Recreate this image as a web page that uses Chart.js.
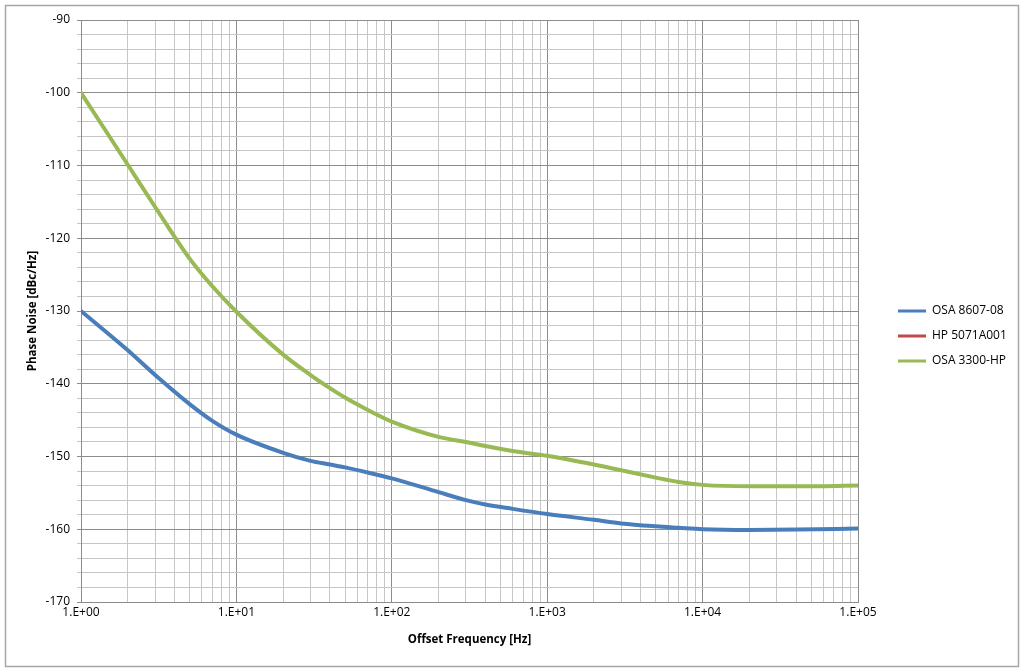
<!DOCTYPE html>
<html>
<head>
<meta charset="utf-8">
<script src="https://cdn.jsdelivr.net/npm/chart.js@4.4.0/dist/chart.umd.min.js"></script>
<style>
html,body{margin:0;padding:0;background:#fff;}
#wrap{position:relative;width:1024px;height:670px;}
canvas{display:block;}
</style>
</head>
<body>
<div id="wrap"><canvas id="c" width="1024" height="670"></canvas></div>
<script>
// ---- data ----
const frequencies = [1,2,3,5,7,10,20,30,40,50,70,100,200,300,400,600,1000,2000,3000,5000,7000,10000,20000,40000,100000];
const osa8607 = [-130,-135.4,-138.8,-142.8,-145.1,-147.0,-149.5,-150.6,-151.1,-151.5,-152.2,-153.0,-154.9,-156.0,-156.6,-157.2,-157.9,-158.7,-159.2,-159.6,-159.8,-160.0,-160.1,-160.05,-159.9];
const hp5071 = [];
const osa3300 = [-100,-109.9,-115.7,-122.8,-126.6,-130.1,-136.0,-138.8,-140.6,-141.9,-143.6,-145.2,-147.3,-148.0,-148.55,-149.25,-149.9,-151.1,-151.9,-152.9,-153.5,-153.9,-154.1,-154.1,-154.0];
const seriesNames = ['OSA 8607-08','HP 5071A001','OSA 3300-HP'];
const seriesColors = ['#4a7ebb','#be4b48','#98b954'];
const decades = [1,10,100,1000,10000,100000];
const xTickLabels = ['1.E+00','1.E+01','1.E+02','1.E+03','1.E+04','1.E+05'];
const yMin = -170, yMax = -90, yStep = 2, yLabelStep = 10;
const xTitle = 'Offset Frequency [Hz]';
const yTitle = 'Phase Noise [dBc/Hz]';

// ---- helpers ----
const toPoints = arr => arr.map((y,i)=>({x:frequencies[i], y:y}));
const gridValues = [];
decades.forEach((d,i)=>{
  if (i === decades.length-1) { gridValues.push(d); return; }
  for (let m=1;m<=9;m++) gridValues.push(d*m);
});
const isDecade = v => decades.some(d => Math.abs(d - v) < 1e-9 * d);
const FONT = "'Open Sans', 'Noto Sans', sans-serif";
const MAJOR = '#8c8c8c', MINOR = '#c6c6c6';

const frame = {
  id: 'frame',
  afterLayout(chart){
    const lg = chart.legend;
    if (lg) {
      const shift = 898 - 13 - lg.left; lg.left += shift; lg.right += shift;
      lg.top -= 9; lg.bottom -= 9;
    }
  },
  beforeDraw(chart){
    const ctx = chart.ctx;
    ctx.save();
    ctx.fillStyle = '#fff';
    ctx.fillRect(0,0,chart.width,chart.height);
    ctx.strokeStyle = '#a6a6a6';
    ctx.lineWidth = 1.5;
    ctx.strokeRect(5.5,5.5,1013,661);
    ctx.restore();
  }
};

const datasets = [osa8607, hp5071, osa3300].map((vals,i)=>({
  label: seriesNames[i],
  data: toPoints(vals),
  borderColor: seriesColors[i],
  backgroundColor: seriesColors[i],
  borderWidth: 4,
  pointRadius: 0,
  showLine: true,
  fill: false,
  cubicInterpolationMode: 'monotone',
  borderCapStyle: 'round',
  borderJoinStyle: 'round'
}));

const chart = new Chart(document.getElementById('c'), {
  type: 'scatter',
  data: { datasets },
  options: {
    responsive: false,
    devicePixelRatio: 1,
    animation: false,
    events: [],
    layout: { padding: { top: 20, right: 30, bottom: 0, left: 0 } },
    plugins: {
      tooltip: { enabled: false },
      legend: {
        position: 'right',
        align: 'center',
        labels: {
          boxWidth: 28,
          boxHeight: 3,
          padding: 13,
          color: '#000',
          font: { family: FONT, size: 12 },
          generateLabels: ch => ch.data.datasets.map((ds,i)=>({
            text: ds.label, fillStyle: ds.borderColor, strokeStyle: ds.borderColor,
            lineWidth: 0, hidden: false, datasetIndex: i, fontColor: '#000'
          }))
        }
      }
    },
    scales: {
      x: {
        type: 'logarithmic',
        position: 'bottom',
        min: decades[0],
        max: decades[decades.length-1],
        afterBuildTicks: s => { s.ticks = gridValues.map(v=>({value:v})); },
        afterFit: s => { s.height = 68; },
        ticks: {
          autoSkip: false, maxRotation: 0, minRotation: 0, padding: 3,
          color: '#000', font: { family: FONT, size: 12 },
          callback: v => { const k = decades.findIndex(d => Math.abs(d-v) < 1e-9*d); return k >= 0 ? xTickLabels[k] : ''; }
        },
        grid: {
          drawTicks: false,
          color: c => (c.tick && isDecade(c.tick.value)) ? MAJOR : MINOR,
          lineWidth: 1
        },
        border: { color: MAJOR },
        title: { display: true, text: xTitle, color: '#000', font: { family: FONT, size: 11.5, weight: 'bold' }, padding: { top: 0, bottom: 23 } }
      },
      y: {
        type: 'linear',
        min: yMin, max: yMax,
        afterFit: s => { s.width = 81; },
        ticks: {
          stepSize: yStep, autoSkip: false, padding: 7,
          color: '#000', font: { family: FONT, size: 12 },
          callback: v => (Math.round(v) % yLabelStep === 0) ? String(Math.round(v)) : ''
        },
        grid: {
          tickLength: 4,
          color: c => (c.tick && Math.round(c.tick.value) % yLabelStep === 0) ? MAJOR : MINOR,
          lineWidth: 1
        },
        border: { color: MAJOR },
        title: { display: true, text: yTitle, color: '#000', font: { family: FONT, size: 11.5, weight: 'bold' }, padding: { top: 26, bottom: 0 } }
      }
    }
  },
  plugins: [frame]
});

for (let i=0;i<4;i++){
  const d = chart.chartArea.right - 858;
  if (Math.abs(d) < 0.5) break;
  chart.options.layout.padding.right += d;
  chart.update('none');
}
</script>
</body>
</html>
